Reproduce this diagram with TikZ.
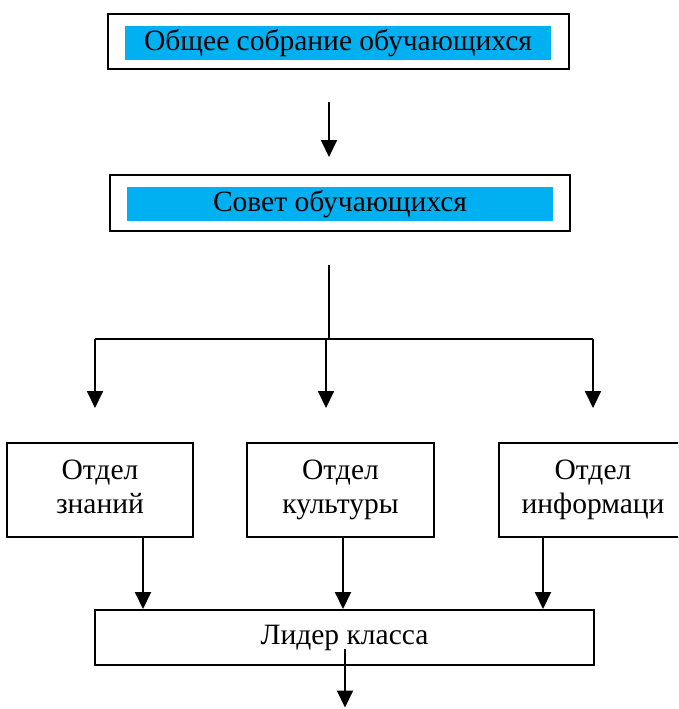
\documentclass[tikz,border=0pt]{standalone}
\usepackage{fontspec}
\setmainfont{Liberation Serif}
\usetikzlibrary{
    arrows.meta,  % arrow tips
    positioning,  % better custom positioning
}
\definecolor{bandblue}{HTML}{00B0F0}
\tikzset{
    frame/.style={draw, line width=2pt, inner sep=0pt},
    band/.style={fill=bandblue, inner sep=0pt, minimum width=426pt, minimum height=34pt},
    dept/.style={draw, line width=2pt, align=center, inner sep=0pt, minimum height=94pt},
    arr/.style={line width=2pt, -{Triangle[width=16pt,length=17pt]}},
    link/.style={line width=2pt},
}

\begin{document}
\begin{tikzpicture}[x=1pt, y=-1pt, font=\fontsize{29.5}{34}\selectfont]
    \clip (0, 0) rectangle (678, 709);

    \node[frame, minimum width=461pt, minimum height=55pt] (sobr) at (338.5, 41.5) {};
    \node[band] (sobrtxt) at (338, 43) {Общее собрание обучающихся};
    \node[frame, minimum width=460pt, minimum height=56pt] (sovet) at (340, 203) {};
    \node[band] (sovettxt) at (340, 204) {Совет обучающихся};

    \node[dept, minimum width=186pt] (znan) at (100, 490) {\strut Отдел\\\strut знаний};
    \node[dept, minimum width=187pt] (kult) at (340.5, 490) {\strut Отдел\\\strut культуры};
    \node[dept, minimum width=188pt] (info) at (593, 490) {\strut Отдел\\\strut информаци};
    \node[frame, minimum width=499pt, minimum height=55pt] (lider) at (344.5, 637.5) {\strut Лидер класса};

    \coordinate (t1) at (329, 102);
    \coordinate (t2) at (329, 157);
    \draw[arr] (t1) -- (t2);

    \coordinate (s1) at (329, 265);
    \coordinate (s2) at (329, 339);
    \coordinate (bl) at (95, 339);
    \coordinate (bm) at (326, 339);
    \coordinate (br) at (593, 339);
    \draw[link] (s1) -- (s2);
    \draw[link] (bl) -- (br);
    \foreach \c in {bl, bm, br}
        \draw[arr] (\c) -- ++(0, 69);

    \draw[arr] ([xshift=43pt]znan.south) -- ([xshift=43pt]znan.south |- lider.north);
    \draw[arr] ([xshift=2.5pt]kult.south) -- ([xshift=2.5pt]kult.south |- lider.north);
    \draw[arr] ([xshift=-50pt]info.south) -- ([xshift=-50pt]info.south |- lider.north);
    \draw[arr] ([shift={(0.5, 11)}]lider.center) -- ([shift={(0.5, 70)}]lider.center);
\end{tikzpicture}
\end{document}
